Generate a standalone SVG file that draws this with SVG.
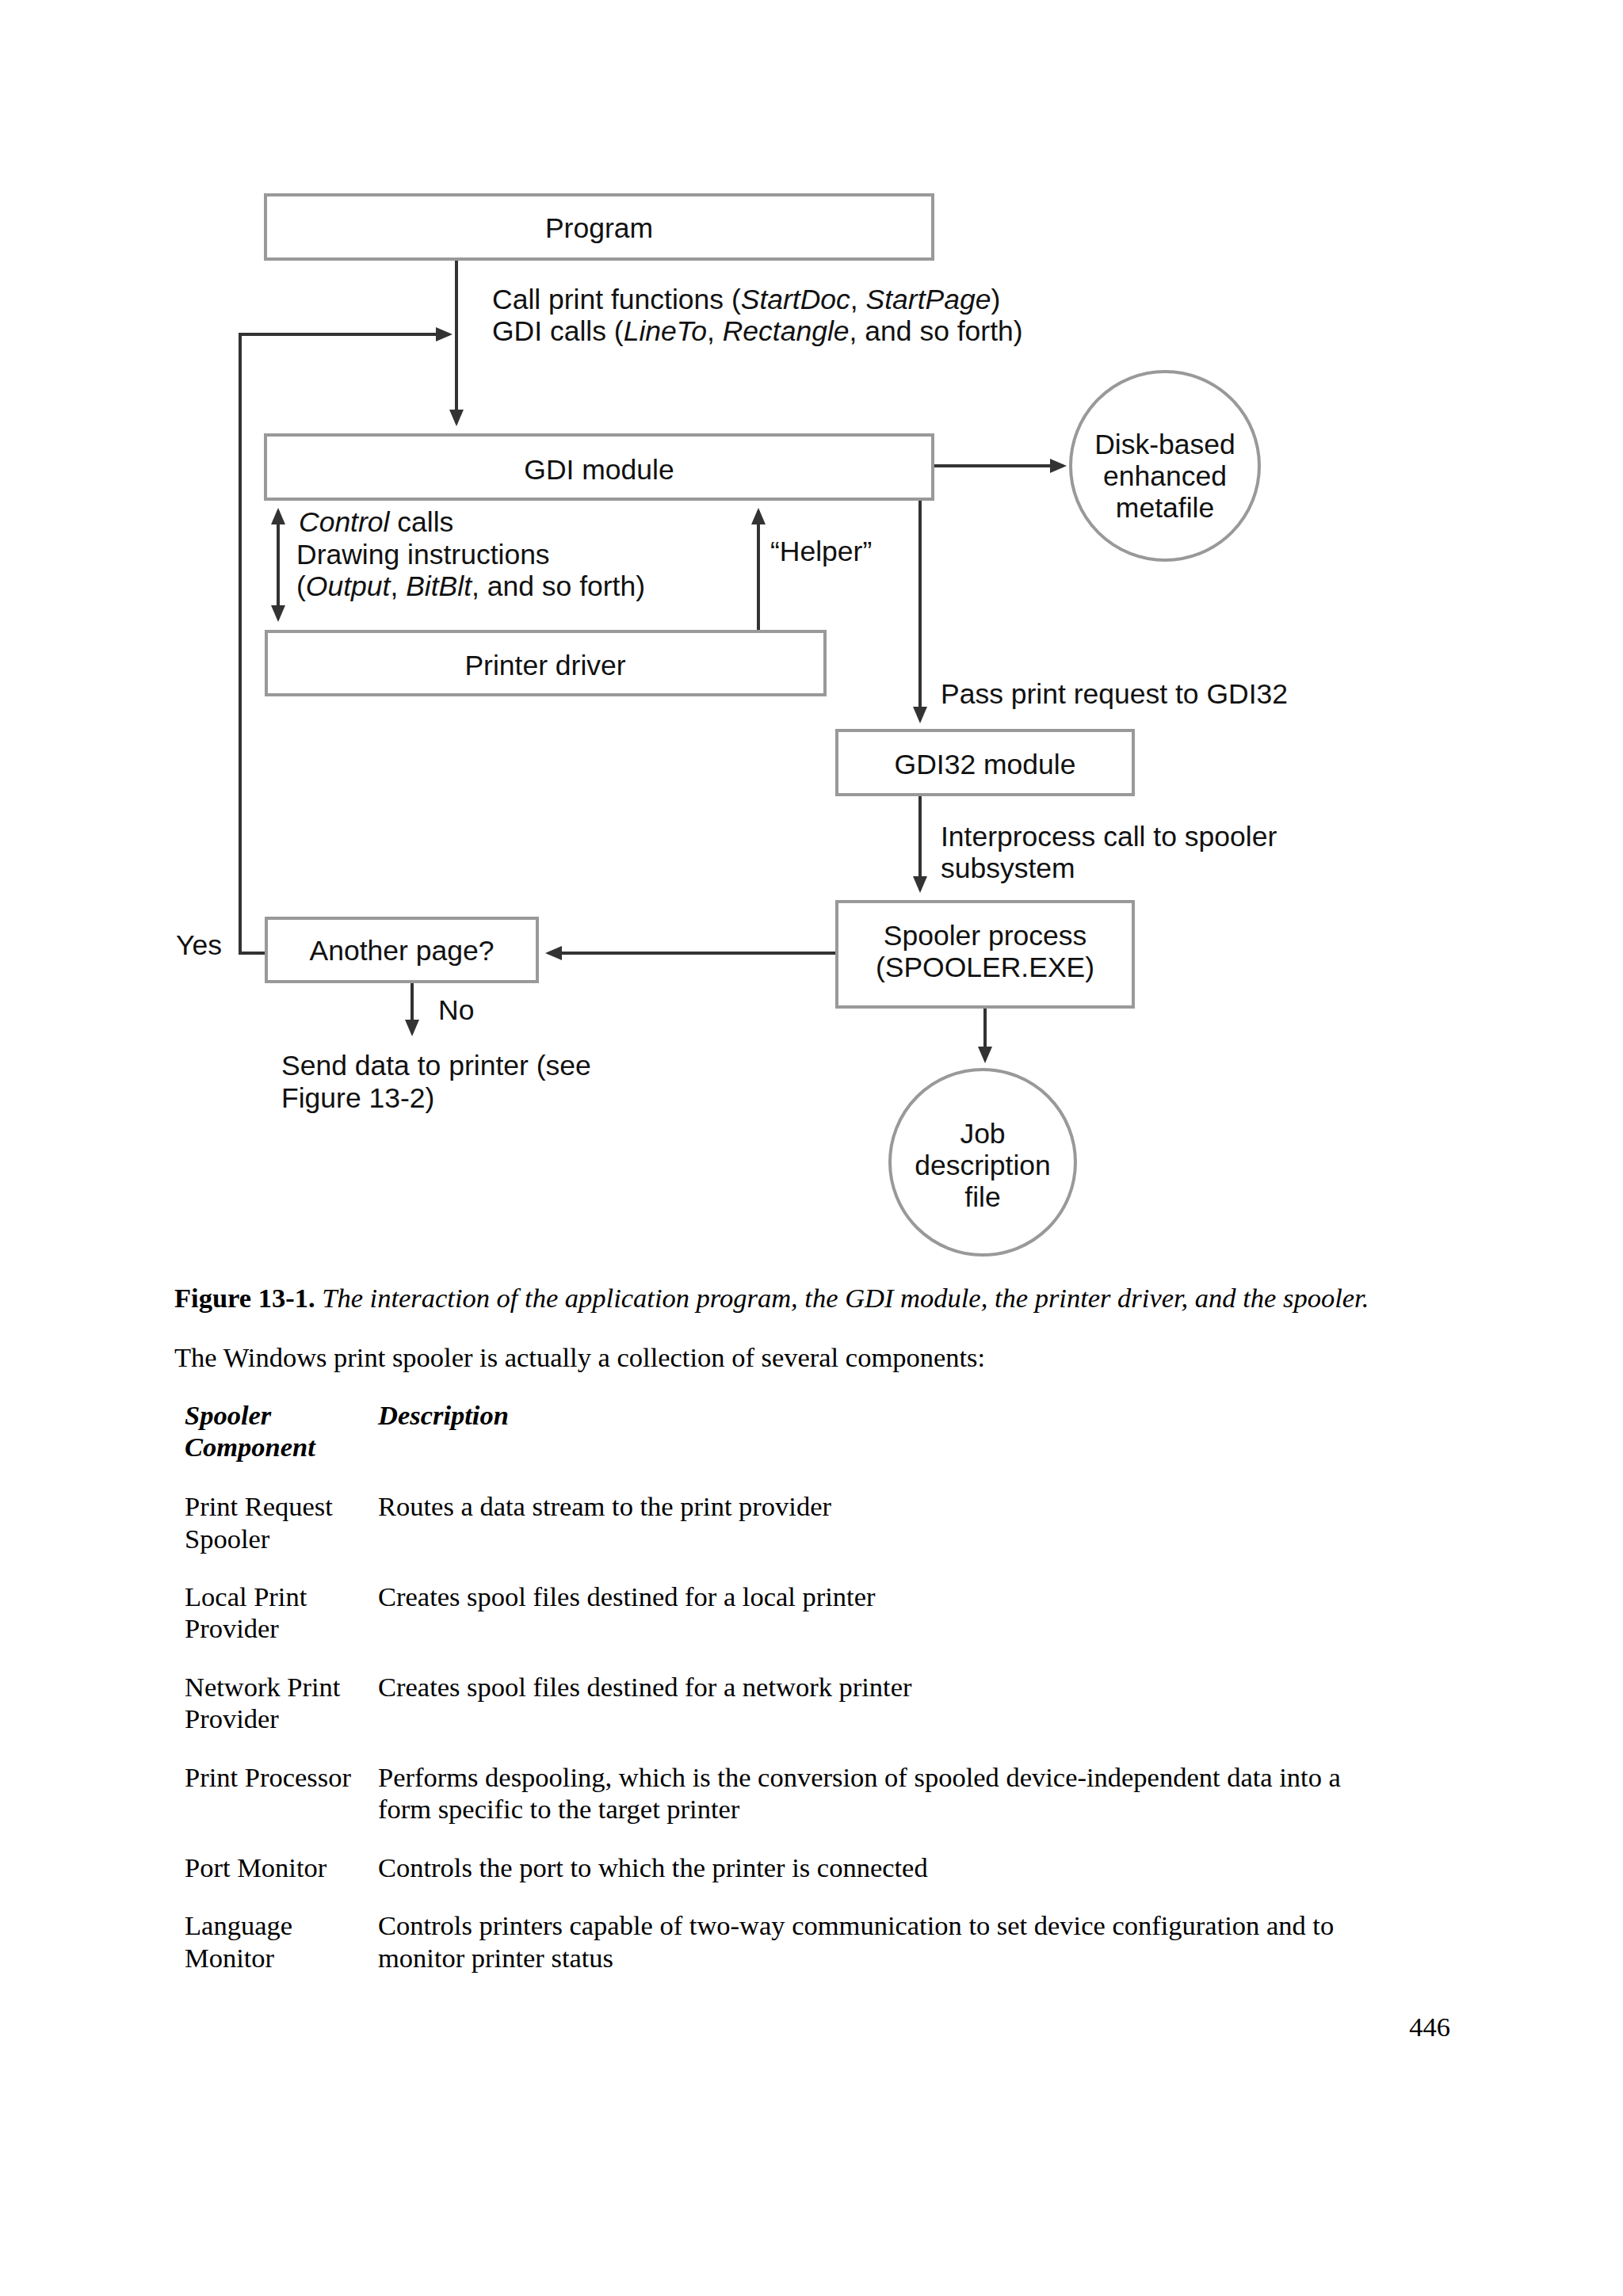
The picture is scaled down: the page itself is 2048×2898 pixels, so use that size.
<svg xmlns="http://www.w3.org/2000/svg" width="2048" height="2898" viewBox="0 0 2048 2898">
<style>
.box{fill:#fff;stroke:#999;stroke-width:4}
.circ{fill:#fff;stroke:#999;stroke-width:4}
.conn{fill:none;stroke:#333;stroke-width:4}
.lbl{font-family:"Liberation Sans",Arial,sans-serif;font-size:35.5px;fill:#111}
.mid{text-anchor:middle}
.it{font-style:italic}
.tm{font-family:"Liberation Serif","Times New Roman",serif;font-size:34.5px;fill:#000}
.b{font-weight:bold}
</style>
<defs>
<marker id="ah" markerUnits="userSpaceOnUse" markerWidth="24" markerHeight="20" refX="17" refY="9" orient="auto-start-reverse">
<path d="M0,0 L21,9 L0,18 z" fill="#333"/>
</marker>
</defs>
<rect width="2048" height="2898" fill="#fff"/>

<g id="connectors">
<line class="conn" x1="576" y1="327" x2="576" y2="534" marker-end="url(#ah)"/>
<path class="conn" d="M336,1203 H303 V422 H567" marker-end="url(#ah)"/>
<line class="conn" x1="1177" y1="588" x2="1342" y2="588" marker-end="url(#ah)"/>
<line class="conn" x1="351" y1="645" x2="351" y2="781" marker-start="url(#ah)" marker-end="url(#ah)"/>
<line class="conn" x1="957" y1="797" x2="957" y2="645" marker-end="url(#ah)"/>
<line class="conn" x1="1161" y1="630" x2="1161" y2="909" marker-end="url(#ah)"/>
<line class="conn" x1="1161" y1="1003" x2="1161" y2="1123" marker-end="url(#ah)"/>
<line class="conn" x1="1056" y1="1203" x2="692" y2="1203" marker-end="url(#ah)"/>
<line class="conn" x1="520" y1="1239" x2="520" y2="1304" marker-end="url(#ah)"/>
<line class="conn" x1="1243" y1="1271" x2="1243" y2="1338" marker-end="url(#ah)"/>
</g>

<g id="labels">
<text class="lbl" x="621" y="390">Call print functions (<tspan class="it">StartDoc</tspan>, <tspan class="it">StartPage</tspan>)</text>
<text class="lbl" x="621" y="430">GDI calls (<tspan class="it">LineTo</tspan>, <tspan class="it">Rectangle</tspan>, and so forth)</text>
<text class="lbl" x="377" y="671"><tspan class="it">Control</tspan> calls</text>
<text class="lbl" x="374" y="712">Drawing instructions</text>
<text class="lbl" x="374" y="752">(<tspan class="it">Output</tspan>, <tspan class="it">BitBlt</tspan>, and so forth)</text>
<text class="lbl" x="972" y="708">“Helper”</text>
<text class="lbl" x="1187" y="888">Pass print request to GDI32</text>
<text class="lbl" x="1187" y="1068">Interprocess call to spooler</text>
<text class="lbl" x="1187" y="1108">subsystem</text>
<text class="lbl" x="222" y="1205">Yes</text>
<text class="lbl" x="553" y="1287">No</text>
<text class="lbl" x="355" y="1357">Send data to printer (see</text>
<text class="lbl" x="355" y="1398">Figure 13-2)</text>
</g>

<g id="program">
<rect class="box" x="335" y="246" width="842" height="81"/>
<text class="lbl mid" x="756" y="300">Program</text>
</g>
<g id="gdi-module">
<rect class="box" x="335" y="549" width="842" height="81"/>
<text class="lbl mid" x="756" y="605">GDI module</text>
</g>
<g id="printer-driver">
<rect class="box" x="336" y="797" width="705" height="80"/>
<text class="lbl mid" x="688" y="852">Printer driver</text>
</g>
<g id="disk-metafile">
<circle class="circ" cx="1470" cy="588" r="119"/>
<text class="lbl mid" x="1470" y="573">Disk-based</text>
<text class="lbl mid" x="1470" y="613">enhanced</text>
<text class="lbl mid" x="1470" y="653">metafile</text>
</g>
<g id="gdi32-module">
<rect class="box" x="1056" y="922" width="374" height="81"/>
<text class="lbl mid" x="1243" y="977">GDI32 module</text>
</g>
<g id="spooler-process">
<rect class="box" x="1056" y="1138" width="374" height="133"/>
<text class="lbl mid" x="1243" y="1193">Spooler process</text>
<text class="lbl mid" x="1243" y="1233">(SPOOLER.EXE)</text>
</g>
<g id="another-page">
<rect class="box" x="336" y="1159" width="342" height="80"/>
<text class="lbl mid" x="507" y="1212">Another page?</text>
</g>
<g id="job-description">
<circle class="circ" cx="1240" cy="1467" r="117"/>
<text class="lbl mid" x="1240" y="1443">Job</text>
<text class="lbl mid" x="1240" y="1483">description</text>
<text class="lbl mid" x="1240" y="1523">file</text>
</g>

<g id="page-text">
<text class="tm" x="220" y="1650"><tspan class="b">Figure 13-1.</tspan> <tspan class="it">The interaction of the application program, the GDI module, the printer driver, and the spooler.</tspan></text>
<text class="tm" x="220" y="1725">The Windows print spooler is actually a collection of several components:</text>
<text class="tm b it" x="233" y="1798">Spooler</text>
<text class="tm b it" x="233" y="1838">Component</text>
<text class="tm b it" x="477" y="1798">Description</text>
<text class="tm" x="233" y="1913">Print Request</text>
<text class="tm" x="233" y="1954">Spooler</text>
<text class="tm" x="477" y="1913">Routes a data stream to the print provider</text>
<text class="tm" x="233" y="2027">Local Print</text>
<text class="tm" x="233" y="2067">Provider</text>
<text class="tm" x="477" y="2027">Creates spool files destined for a local printer</text>
<text class="tm" x="233" y="2141">Network Print</text>
<text class="tm" x="233" y="2181">Provider</text>
<text class="tm" x="477" y="2141">Creates spool files destined for a network printer</text>
<text class="tm" x="233" y="2255">Print Processor</text>
<text class="tm" x="477" y="2255">Performs despooling, which is the conversion of spooled device-independent data into a</text>
<text class="tm" x="477" y="2295">form specific to the target printer</text>
<text class="tm" x="233" y="2369">Port Monitor</text>
<text class="tm" x="477" y="2369">Controls the port to which the printer is connected</text>
<text class="tm" x="233" y="2442">Language</text>
<text class="tm" x="233" y="2483">Monitor</text>
<text class="tm" x="477" y="2442">Controls printers capable of two-way communication to set device configuration and to</text>
<text class="tm" x="477" y="2483">monitor printer status</text>
<text class="tm" x="1830" y="2570" text-anchor="end">446</text>
</g>
</svg>
